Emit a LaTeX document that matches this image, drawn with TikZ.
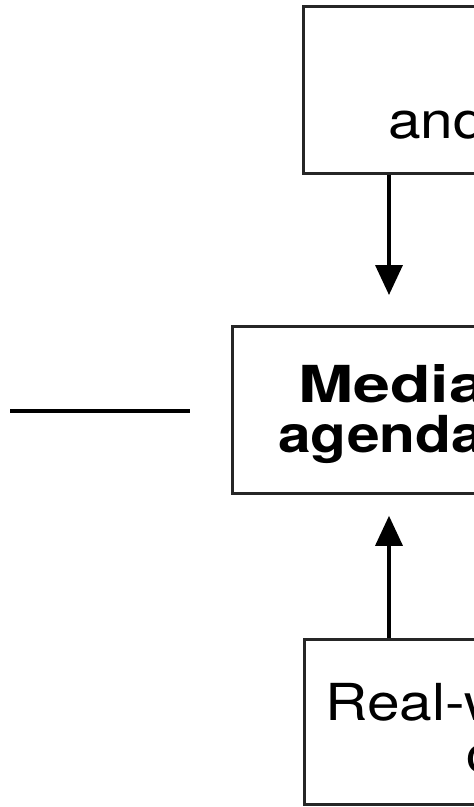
\documentclass[tikz,border=0pt]{standalone}
\usepackage{fontspec}
\setmainfont{TeX Gyre Heros}
\usetikzlibrary{arrows.meta,positioning,calc}

\begin{document}
\begin{tikzpicture}[x=1pt,y=-1pt,
    box/.style={draw=black!85, line width=2.8pt, rectangle, anchor=north west, minimum width=400pt},
    txt/.style={inner sep=0pt, anchor=base west, font=\fontsize{51}{51}\selectfont, xscale=1.15, transform shape},
    arw/.style={line width=3.5pt, -{Triangle[length=30pt,width=27pt]}}]
    \useasboundingbox (0,0) rectangle (474,807);
    \clip (0,0) rectangle (474,807);
    \node [box, minimum height=167pt] (top) at (302,5) {};
    \node [box, minimum height=167pt] (mid) at (231,325) {};
    \node [box, minimum height=165pt] (bot) at (303,638) {};
    \node [txt] (toptext) at (388,138) {and};
    \node [txt, font=\fontsize{51}{51}\selectfont\bfseries, xscale=1.13] (midtext) at (298,402) {Media};
    \node [txt, font=\fontsize{51}{51}\selectfont\bfseries] (midtextb) at (278,452) {agenda};
    \node [txt] (bottext) at (325,720) {Real-world};
    \node [txt] (bottextb) at (466,772) {c};
    \coordinate (topout) at ($(top.south west)+(87,0)$);
    \coordinate (botout) at ($(bot.north west)+(86,0)$);
    \draw [arw, shorten >=30pt] (topout) -- (topout |- mid.north);
    \draw [arw, shorten >=21pt] (botout) -- (botout |- mid.south);
    \coordinate (leftend) at ($(mid.west)+(-221,1.5)$);
    \draw [line width=4pt] (leftend) -- ($(mid.west)+(-41,1.5)$);
\end{tikzpicture}
\end{document}
